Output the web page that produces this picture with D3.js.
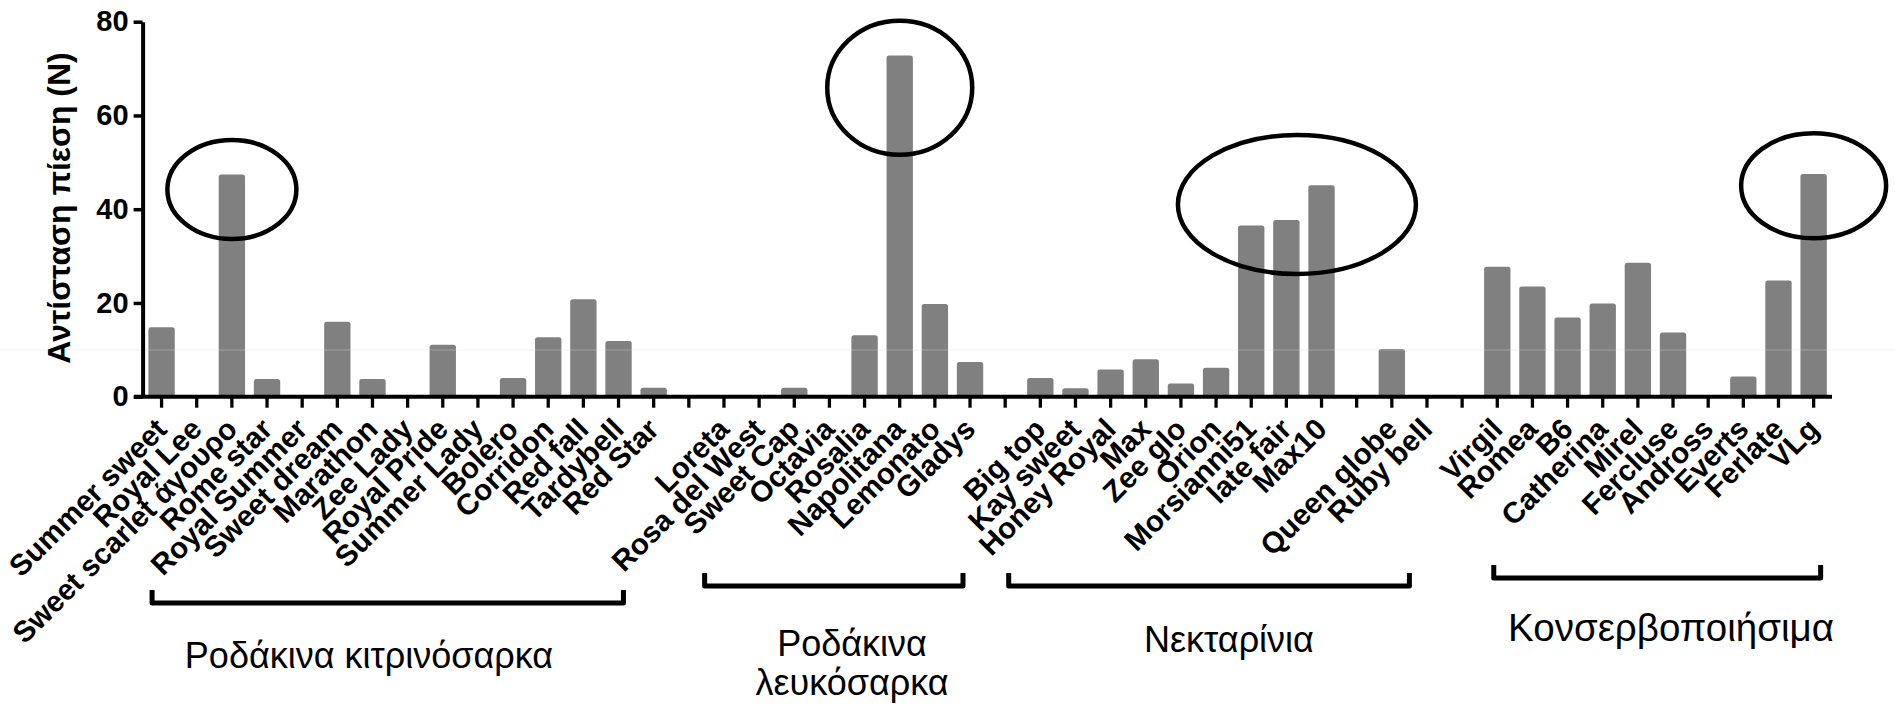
<!DOCTYPE html>
<html><head><meta charset="utf-8">
<script src="https://cdn.jsdelivr.net/npm/d3@7"></script>
<style>body{margin:0;background:#fff} text{font-family:"Liberation Sans",Arial,Helvetica,sans-serif}</style>
</head><body><svg id="c" width="1895" height="706"></svg>
<script>
// ---- data ----
const categories = ["Summer sweet","Royal Lee","Sweet scarlet άγουρο","Rome star","Royal Summer","Sweet dream","Marathon","Zee Lady","Royal Pride","Summer Lady","Bolero","Corridon","Red fall","Tardybell","Red Star","",
"Loreta","Rosa del West","Sweet Cap","Octavia","Rosalia","Napolitana","Lemonato","Gladys","",
"Big top","Kay sweet","Honey Royal","Max","Zee glo","Orion","Morsianni51","late fair","Max10","","Queen globe","Ruby bell","",
"Virgil","Romea","B6","Catherina","Mirel","Fercluse","Andross","Everts","Ferlate","VLg"];
const values = [14.8,0,47.4,3.8,0,16.0,3.8,0,11.1,0,4.0,12.7,20.8,11.9,1.9,null,
 0,0,1.9,0,13.1,72.8,19.8,7.4,null,
 4.0,1.8,5.8,8.0,2.8,6.2,36.5,37.7,45.1,null,10.2,0,null,
 27.7,23.5,16.9,19.9,28.6,13.7,0,4.3,24.8,47.5];
const yTicks = [0,20,40,60,80];
const yTitle = "Αντίσταση πίεση (N)";
const groupNames = [["Ροδάκινα κιτρινόσαρκα"],["Ροδάκινα","λευκόσαρκα"],["Νεκταρίνια"],["Κονσερβοποιήσιμα"]];
const highlighted = [["Sweet scarlet άγουρο"],["Napolitana"],["Morsianni51","late fair","Max10"],["VLg"]];

// ---- layout ----
const svg = d3.select("#c");
const keys = categories.map((c,i)=>i);
const x = d3.scaleBand().domain(keys).range([144, 1831.2]).paddingInner(0.25).paddingOuter(0.125);
const y = d3.scaleLinear().domain([0,80]).range([396.7, 21.7]);
const cx = i => x(i) + x.bandwidth()/2;
const idx = d3.scaleLinear().domain([0,1]).range([cx(0), cx(1)]);

// faint background line
svg.append("line").attr("x1",0).attr("x2",1895).attr("y1",350).attr("y2",350)
  .attr("stroke","#f1f1f1").attr("stroke-width",1);

// bars
const r = 2.5;
svg.append("g").selectAll("path").data(keys.filter(i=>values[i]>0)).join("path")
  .attr("fill","#808080")
  .attr("d", i => {
    const x0 = x(i), w = x.bandwidth(), yt = y(values[i]), yb = y(0);
    const rr = Math.min(r, (yb-yt));
    return `M${x0},${yb}V${yt+rr}Q${x0},${yt} ${x0+rr},${yt}H${x0+w-rr}Q${x0+w},${yt} ${x0+w},${yt+rr}V${yb}Z`;
  });

svg.append("line").attr("x1",0).attr("x2",1895).attr("y1",350).attr("y2",350)
  .attr("stroke","#fff").attr("stroke-opacity",0.25).attr("stroke-width",1);

// y axis
const yAxis = svg.append("g").attr("transform","translate(142.6,0)")
  .call(d3.axisLeft(y).tickValues(yTicks).tickSize(9).tickSizeOuter(0).tickPadding(5));
yAxis.select(".domain").attr("stroke","#000").attr("stroke-width",4);
yAxis.selectAll(".tick line").attr("stroke","#000").attr("stroke-width",3.5);
yAxis.selectAll(".tick text").attr("font-size",29).attr("font-weight","bold").attr("fill","#000")
  .attr("font-family","Liberation Sans, Arial, sans-serif");

// x axis
const xAxis = svg.append("g").attr("transform","translate(0,396.7)")
  .call(d3.axisBottom(x).tickSize(11).tickSizeOuter(0).tickFormat(""));
xAxis.select(".domain").remove();
xAxis.selectAll(".tick line").attr("stroke","#000").attr("stroke-width",3.3);
svg.append("line").attr("x1",134).attr("x2",1832).attr("y1",396.7).attr("y2",396.7)
  .attr("stroke","#000").attr("stroke-width",4);

// category labels
svg.append("g").selectAll("text").data(keys.filter(i=>categories[i]!=="")).join("text")
  .attr("transform", i => `translate(${cx(i)+7},431) rotate(-45)`)
  .attr("text-anchor","end").attr("font-size",29.5).attr("font-weight","bold").attr("fill","#000")
  .text(i => categories[i]);

// y title
svg.append("text").attr("transform","translate(70,208) rotate(-90)")
  .attr("text-anchor","middle").attr("font-size",32).attr("font-weight","bold").text(yTitle);

// group brackets (index span, top y)
const brackets = [[-0.27,13.14,590],[15.45,22.8,573],[24.1,35.5,573],[37.9,47.2,565]];
const bh = 13;
svg.append("g").selectAll("path").data(brackets).join("path")
  .attr("fill","none").attr("stroke","#000").attr("stroke-width",5).attr("stroke-linejoin","round")
  .attr("d", b => `M${idx(b[0])},${b[2]}V${b[2]+bh}H${idx(b[1])}V${b[2]}`);

// group names
const namePos = [[369,[668],36],[852,[656,695],36],[1229,[652],36],[1671,[641],38.5]];
groupNames.forEach((lines,g)=>{
  lines.forEach((t,k)=>{
    svg.append("text").attr("x",namePos[g][0]).attr("y",namePos[g][1][k])
      .attr("text-anchor","middle").attr("font-size",namePos[g][2]).attr("fill","#000").text(t);
  });
});

// highlight ellipses: [center value, rx, ry]
const ell = [[44.2,64.5,49.5],[65.9,72.5,67],[41.0,119,69.5],[45.0,72.5,52.5]];
highlighted.forEach((names,g)=>{
  const ids = names.map(n=>categories.indexOf(n));
  let c = d3.mean(ids, cx);
  if (g===2) c = idx(32.3);
  svg.append("ellipse").attr("cx",c).attr("cy",y(ell[g][0])).attr("rx",ell[g][1]).attr("ry",ell[g][2])
    .attr("fill","none").attr("stroke","#000").attr("stroke-width",4.5);
});
</script></body></html>
